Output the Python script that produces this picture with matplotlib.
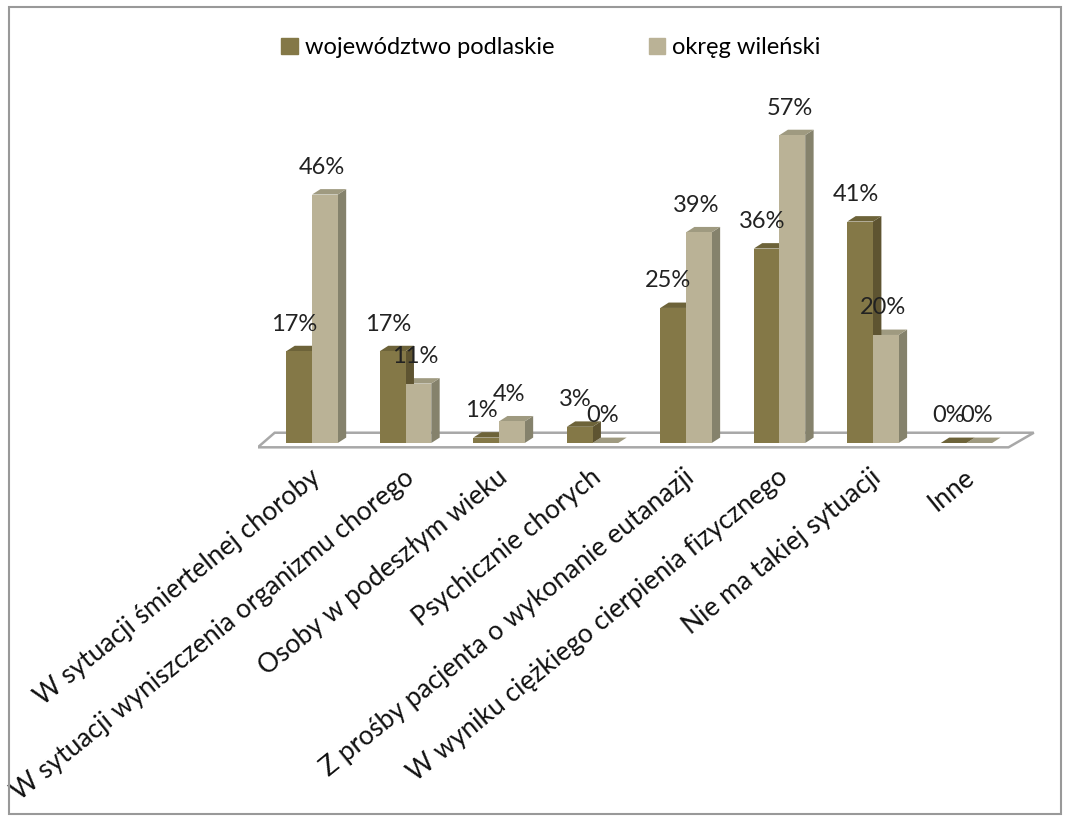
import matplotlib
matplotlib.use("Agg")
import matplotlib.pyplot as plt
from matplotlib.patches import Polygon, Rectangle

categories = [
    "W sytuacji śmiertelnej choroby",
    "W sytuacji wyniszczenia organizmu chorego",
    "Osoby w podeszłym wieku",
    "Psychicznie chorych",
    "Z prośby pacjenta o wykonanie eutanazji",
    "W wyniku ciężkiego cierpienia fizycznego",
    "Nie ma takiej sytuacji",
    "Inne",
]
podlaskie = [17, 17, 1, 3, 25, 36, 41, 0]
wilenski = [46, 11, 4, 0, 39, 57, 20, 0]
series_names = ["województwo podlaskie", "okręg wileński"]

# front / side / top colours for each series
DARK = ("#847847", "#5e5431", "#6d6339")
LIGHT = ("#bab296", "#85826c", "#9f9a80")

BAR_W = 0.275
DX = 0.09   # depth in x (data units)
DY = 1.0    # depth in y (data units)

plt.rcParams['font.family'] = ['Lato', 'DejaVu Sans']

fig = plt.figure(figsize=(10.68, 8.21), dpi=100)
ax = fig.add_axes([0.2416, 0.4397, 0.7275, 0.4385])
ax.set_xlim(-0.578, 7.733)
ax.set_ylim(-3.15, 63.5)
ax.axis("off")

# floor
n = len(categories)
floor = Polygon([(-0.58, -0.8), (7.45, -0.8), (7.72, 1.9), (-0.40, 1.9)],
                closed=True, facecolor="white", edgecolor="#a8a8a8", lw=1.8, zorder=1)
ax.add_patch(floor)


def bar3d(x0, h, cols):
    front, side, top = cols
    ax.add_patch(Polygon([(x0 + BAR_W, 0), (x0 + BAR_W + DX, DY),
                          (x0 + BAR_W + DX, h + DY), (x0 + BAR_W, h)],
                         closed=True, facecolor=side, edgecolor="none", zorder=3))
    ax.add_patch(Polygon([(x0, h), (x0 + DX, h + DY),
                          (x0 + BAR_W + DX, h + DY), (x0 + BAR_W, h)],
                         closed=True, facecolor=top, edgecolor="none", zorder=3))
    ax.bar(x0, h, width=BAR_W, align="edge", color=front, zorder=4)


for i in range(n):
    bar3d(i, wilenski[i], LIGHT)
    bar3d(i - BAR_W, podlaskie[i], DARK)

for i in range(n):
    ax.text(i - BAR_W / 2 - 0.05, podlaskie[i] + 5, f"{podlaskie[i]}%",
            ha="center", va="center", fontsize=17, color="#222222", zorder=6)
    ax.text(i + BAR_W / 2 - 0.03, wilenski[i] + 5, f"{wilenski[i]}%",
            ha="center", va="center", fontsize=17, color="#222222", zorder=6)

for i, lab in enumerate(categories):
    ax.text(i - 0.03, -4.0, lab, rotation=39, rotation_mode="anchor",
            ha="right", va="top", fontsize=19, color="#111111")

# legend
handles = [Rectangle((0, 0), 1, 1, color=DARK[0]), Rectangle((0, 0), 1, 1, color=LIGHT[0])]
fig.legend(handles, series_names, loc="center", bbox_to_anchor=(0.516, 0.942), ncol=2,
           frameon=False, fontsize=17, handlelength=0.7, handleheight=0.7,
           handletextpad=0.3, columnspacing=4.0)

fig.patches.append(Rectangle((0.008, 0.008), 0.985, 0.984, transform=fig.transFigure,
                             fill=False, edgecolor="#999999", lw=1.5))

fig.savefig("out.png", dpi=100)
